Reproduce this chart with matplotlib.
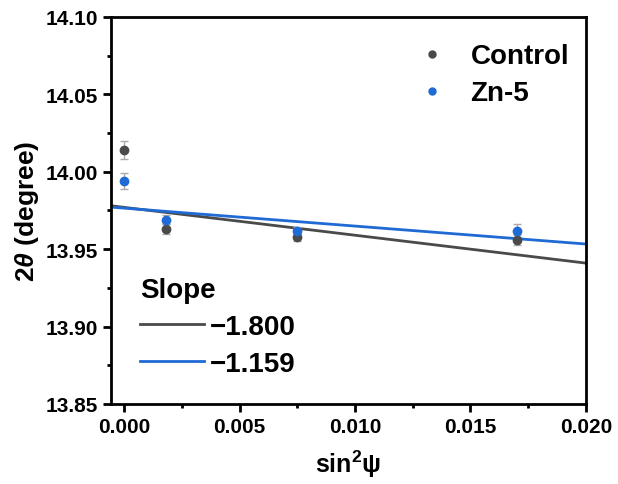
import numpy as np
import matplotlib.pyplot as plt
from matplotlib.ticker import MultipleLocator

plt.rcParams['font.family'] = ['Liberation Sans', 'DejaVu Sans']
plt.rcParams['font.weight'] = 'bold'
plt.rcParams['mathtext.fontset'] = 'custom'
plt.rcParams['mathtext.it'] = 'Liberation Sans:italic:bold'
plt.rcParams['mathtext.rm'] = 'Liberation Sans:bold'
plt.rcParams['mathtext.bf'] = 'Liberation Sans:bold'

# data
sin2psi = [0.0, 0.0018, 0.0075, 0.0170]
control = [14.014, 13.963, 13.958, 13.956]
control_err = [0.006, 0.003, 0.003, 0.003]
zn5 = [13.994, 13.969, 13.962, 13.962]
zn5_err = [0.005, 0.003, 0.002, 0.004]

# fitted lines
control_slope, control_b = -1.800, 13.977
zn5_slope, zn5_b = -1.159, 13.9765

c_gray = '#4a4a4a'
c_blue = '#1f6ad4'

fig, ax = plt.subplots(figsize=(6.18, 4.85), dpi=100)
fig.subplots_adjust(left=0.18, right=0.948, top=0.963, bottom=0.165)

xx = np.array([-0.0006, 0.0201])
l1, = ax.plot(xx, control_b + control_slope * xx, color=c_gray, lw=2)
l2, = ax.plot(xx, zn5_b + zn5_slope * xx, color=c_blue, lw=2)

ax.errorbar(sin2psi, control, yerr=control_err, fmt='o', color=c_gray, ms=6,
            ecolor='#aaaaaa', elinewidth=1, capsize=3, zorder=3)
ax.errorbar(sin2psi, zn5, yerr=zn5_err, fmt='o', color=c_blue, ms=6,
            ecolor='#aaaaaa', elinewidth=1, capsize=3, zorder=3)

p1, = ax.plot([], [], 'o', color=c_gray, ms=5)
p2, = ax.plot([], [], 'o', color=c_blue, ms=5)
leg1 = ax.legend([p1, p2], ['Control', 'Zn-5'], loc='upper right', frameon=False,
                 prop={'size': 20, 'weight': 'bold'}, handletextpad=0.4,
                 borderaxespad=0.2, labelspacing=0.4, bbox_to_anchor=(1.0, 0.975))
ax.add_artist(leg1)
leg2 = ax.legend([l1, l2], ['\u22121.800', '\u22121.159'], title='Slope', loc='lower left',
                 frameon=False, prop={'size': 20, 'weight': 'bold'},
                 title_fontproperties={'size': 20, 'weight': 'bold'},
                 handlelength=2.3, handletextpad=0.2, borderaxespad=0.3,
                 labelspacing=0.4, bbox_to_anchor=(0.02, 0.02))
leg2._legend_box.align = 'left'

ax.set_xlim(-0.00056, 0.020)
ax.set_ylim(13.85, 14.10)
ax.set_xticks([0.000, 0.005, 0.010, 0.015, 0.020])
ax.set_xticklabels(['0.000', '0.005', '0.010', '0.015', '0.020'])
ax.set_yticks([13.85, 13.90, 13.95, 14.00, 14.05, 14.10])
ax.set_yticklabels(['13.85', '13.90', '13.95', '14.00', '14.05', '14.10'])
ax.xaxis.set_minor_locator(MultipleLocator(0.0025))
ax.yaxis.set_minor_locator(MultipleLocator(0.025))
ax.tick_params(which='major', labelsize=15, width=2, length=6)
ax.tick_params(which='minor', width=2, length=3)
for sp in ax.spines.values():
    sp.set_linewidth(2)

ax.set_xlabel('sin$^{\\mathbf{2}}$\u03c8', fontsize=18, fontweight='bold', labelpad=8)
ax.set_ylabel(r'2$\theta$ (degree)', fontsize=19, fontweight='bold', labelpad=3)

plt.savefig('out.png', dpi=100)
